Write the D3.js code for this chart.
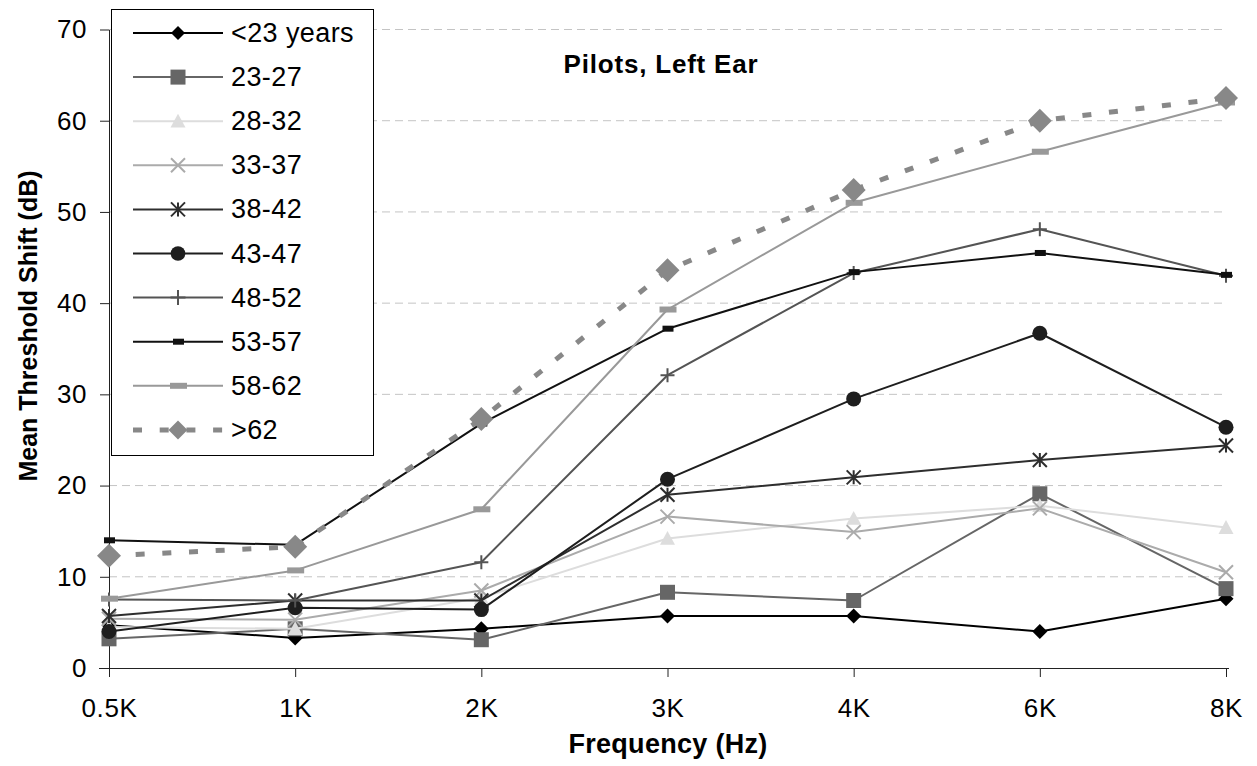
<!DOCTYPE html>
<html><head><meta charset="utf-8">
<script src="https://cdn.jsdelivr.net/npm/d3@7"></script>
<style>
body{margin:0;background:#fff}
svg{display:block}
text{font-family:"Liberation Sans",Arial,Helvetica,sans-serif;fill:#000}
</style>
</head><body>
<svg id="chart" width="1257" height="766"></svg>
<script>
// ---- data ----
const frequencies = ["0.5K","1K","2K","3K","4K","6K","8K"];
const seriesNames = ["<23 years","23-27","28-32","33-37","38-42","43-47","48-52","53-57","58-62",">62"];
const age_lt23  = [4.7, 3.3, 4.3, 5.7, 5.7, 4.0, 7.6];
const age_23_27 = [3.2, 4.3, 3.1, 8.3, 7.4, 19.1, 8.7];
const age_28_32 = [4.5, 4.3, 7.7, 14.2, 16.4, 17.8, 15.4];
const age_33_37 = [5.4, 5.3, 8.5, 16.6, 14.9, 17.5, 10.5];
const age_38_42 = [5.7, 7.4, 7.4, 19.0, 20.9, 22.8, 24.4];
const age_43_47 = [4.0, 6.6, 6.4, 20.7, 29.5, 36.7, 26.4];
const age_48_52 = [7.5, 7.4, 11.6, 32.1, 43.3, 48.1, 43.0];
const age_53_57 = [14.0, 13.5, 26.8, 37.2, 43.4, 45.5, 43.1];
const age_58_62 = [7.6, 10.7, 17.4, 39.3, 51.0, 56.6, 62.0];
const age_gt62  = [12.3, 13.3, 27.3, 43.6, 52.4, 60.0, 62.5];
const seriesValues = [age_lt23, age_23_27, age_28_32, age_33_37, age_38_42, age_43_47, age_48_52, age_53_57, age_58_62, age_gt62];
const yTicks = [0, 10, 20, 30, 40, 50, 60, 70];
const chartTitle = "Pilots, Left Ear";
const xTitle = "Frequency (Hz)";
const yTitle = "Mean Threshold Shift (dB)";

// ---- styles ----
const styles = [
  {color:"#000000", marker:"diamond", size:7.5, legendSize:7},
  {color:"#666666", marker:"square", size:7.5, legendSize:7.5},
  {color:"#dddddd", marker:"triangle", size:7.5, legendSize:7.5},
  {color:"#ababab", marker:"x", size:7, legendSize:7},
  {color:"#2e2e2e", marker:"star", size:7, legendSize:7},
  {color:"#1e1e1e", marker:"circle", size:7.5, legendSize:7.3},
  {color:"#545454", marker:"plus", size:7, legendSize:7.5},
  {color:"#111111", marker:"rectS", size:1, legendSize:1},
  {color:"#999999", marker:"rectL", size:1, legendSize:1},
  {color:"#888888", marker:"diamond", size:12, legendSize:9.5, dashed:true}
];

const svg = d3.select("#chart");
const x = d3.scalePoint().domain(frequencies).range([109, 1226]);
const y = d3.scaleLinear().domain([0, 70]).range([668, 29.5]);

// gridlines
svg.append("g").selectAll("line").data(yTicks.filter(t => t > 0)).join("line")
  .attr("x1", 109).attr("x2", 1226)
  .attr("y1", d => y(d)).attr("y2", d => y(d))
  .attr("stroke", "#c4c4c4").attr("stroke-width", 1).attr("stroke-dasharray", "8,5");

// axes
const yAxis = svg.append("g").attr("transform", "translate(109,0)")
  .call(d3.axisLeft(y).tickValues(yTicks).tickSize(9).tickSizeOuter(0).tickPadding(13).tickFormat(d3.format("d")));
const xAxis = svg.append("g").attr("transform", "translate(0,668)")
  .call(d3.axisBottom(x).tickSize(9).tickSizeOuter(0).tickPadding(22));
[yAxis, xAxis].forEach(g => {
  g.selectAll("path.domain").attr("stroke", "#222");
  g.selectAll(".tick line").attr("stroke", "#222");
  g.selectAll("text").attr("font-size", 26).attr("letter-spacing", "0.6px")
    .attr("font-family", '"Liberation Sans",Arial,sans-serif').attr("fill", "#000");
});
svg.append("line").attr("x1", 99).attr("x2", 1229).attr("y1", 668.5).attr("y2", 668.5).attr("stroke", "#222");

// marker drawing
function drawMarker(g, type, cx, cy, s, color) {
  if (type === "diamond") {
    g.append("path").attr("d", `M${cx},${cy-s}L${cx+s},${cy}L${cx},${cy+s}L${cx-s},${cy}Z`).attr("fill", color);
  } else if (type === "square") {
    g.append("rect").attr("x", cx-s).attr("y", cy-s).attr("width", 2*s).attr("height", 2*s).attr("fill", color);
  } else if (type === "triangle") {
    g.append("path").attr("d", `M${cx},${cy-s}L${cx+s},${cy+s*0.85}L${cx-s},${cy+s*0.85}Z`).attr("fill", color);
  } else if (type === "circle") {
    g.append("circle").attr("cx", cx).attr("cy", cy).attr("r", s).attr("fill", color);
  } else if (type === "x") {
    g.append("path").attr("d", `M${cx-s},${cy-s}L${cx+s},${cy+s}M${cx+s},${cy-s}L${cx-s},${cy+s}`)
      .attr("stroke", color).attr("stroke-width", 2).attr("fill", "none");
  } else if (type === "star") {
    g.append("path").attr("d", `M${cx-s},${cy-s}L${cx+s},${cy+s}M${cx+s},${cy-s}L${cx-s},${cy+s}M${cx},${cy-s}L${cx},${cy+s}`)
      .attr("stroke", color).attr("stroke-width", 2).attr("fill", "none");
  } else if (type === "plus") {
    g.append("path").attr("d", `M${cx-s},${cy}L${cx+s},${cy}M${cx},${cy-s}L${cx},${cy+s}`)
      .attr("stroke", color).attr("stroke-width", 2).attr("fill", "none");
  } else if (type === "rectS") {
    g.append("rect").attr("x", cx-5).attr("y", cy-3).attr("width", 11).attr("height", 6).attr("fill", color);
  } else if (type === "rectL") {
    g.append("rect").attr("x", cx-8).attr("y", cy-3).attr("width", 17).attr("height", 6).attr("fill", color);
  }
}

// series
const line = d3.line().x(d => x(d.f)).y(d => y(d.v));
seriesNames.forEach((name, i) => {
  const st = styles[i];
  const pts = frequencies.map((f, j) => ({f, v: seriesValues[i][j]}));
  const g = svg.append("g");
  g.append("path").datum(pts).attr("d", line).attr("fill", "none")
    .attr("stroke", st.color)
    .attr("stroke-width", st.dashed ? 5 : 2)
    .attr("stroke-dasharray", st.dashed ? "9,17.7" : null)
    .attr("stroke-linejoin", "round");
  pts.forEach(p => drawMarker(g, st.marker, x(p.f), y(p.v), st.size, st.color));
});

// titles
svg.append("text").attr("x", 661).attr("y", 73).attr("text-anchor", "middle")
  .attr("font-size", 26).attr("letter-spacing", "0.8px").attr("font-weight", "bold").text(chartTitle);
svg.append("text").attr("x", 668).attr("y", 753).attr("text-anchor", "middle")
  .attr("font-size", 27).attr("letter-spacing", "0.3px").attr("font-weight", "bold").text(xTitle);
svg.append("text").attr("transform", "translate(37,326) rotate(-90)").attr("text-anchor", "middle")
  .attr("font-size", 25).attr("font-weight", "bold").text(yTitle);

// legend
const lg = svg.append("g");
lg.append("rect").attr("x", 111.5).attr("y", 9.5).attr("width", 262).attr("height", 446)
  .attr("fill", "#fff").attr("stroke", "#000").attr("stroke-width", 1);
seriesNames.forEach((name, i) => {
  const st = styles[i];
  const ly = 33 + i * 44.1;
  lg.append("line").attr("x1", 133).attr("x2", 223).attr("y1", ly).attr("y2", ly)
    .attr("stroke", st.color).attr("stroke-width", st.dashed ? 5 : 2)
    .attr("stroke-dasharray", st.dashed ? "9,17.7" : null);
  drawMarker(lg, st.marker, 178, ly, st.legendSize, st.color);
  lg.append("text").attr("x", 231).attr("y", ly + 9).attr("font-size", 27).attr("letter-spacing", "0.4px").text(name);
});
</script>
</body></html>
